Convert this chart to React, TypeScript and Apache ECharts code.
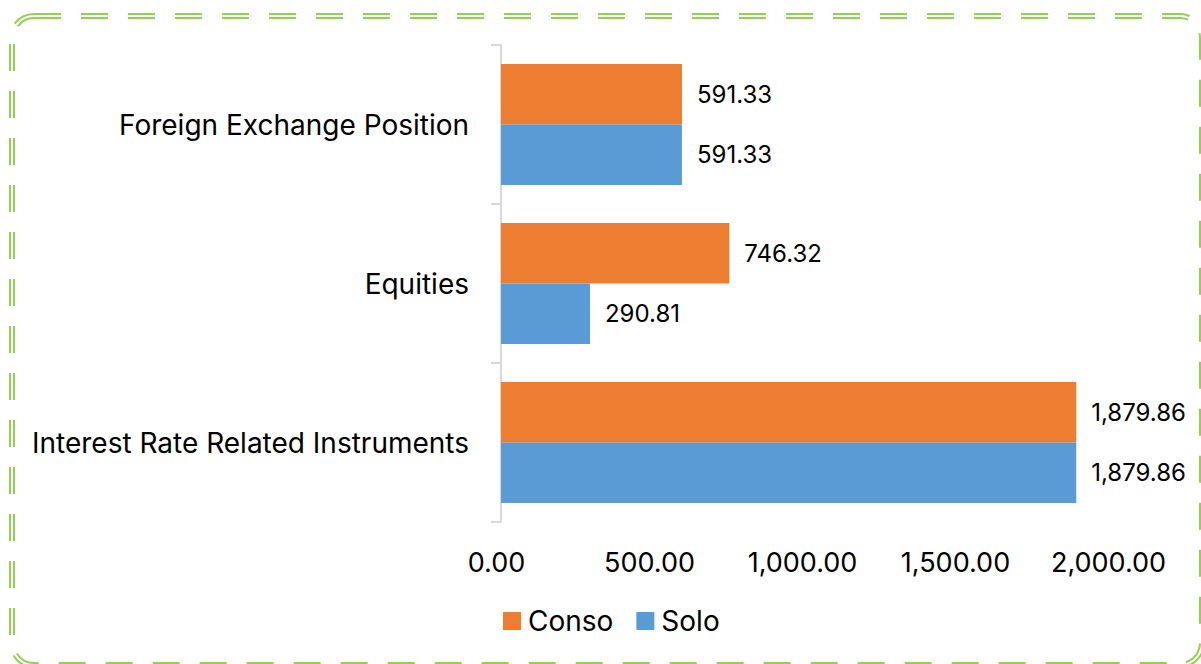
import React, { useEffect, useRef } from "react";
import * as echarts from "echarts";

const categories = ["Interest Rate Related Instruments", "Equities", "Foreign Exchange Position"];
const consoValues = [1879.86, 746.32, 591.33];
const soloValues = [1879.86, 290.81, 591.33];
const xTicks = [0, 500, 1000, 1500, 2000];

const FONT = "Inter";
const fmt = (v: number) =>
  v.toLocaleString("en-US", { minimumFractionDigits: 2, maximumFractionDigits: 2 });

export default function App() {
  const ref = useRef<HTMLDivElement>(null);
  useEffect(() => {
    if (!ref.current) return;
    const chart = echarts.init(ref.current, undefined, { renderer: "svg" });
    const W = 1201, H = 664;
    const borderShape = { x: 12, y: 16, width: W - 12 + 1, height: H - 16 + 1, r: 22 };
    const labelCfg = {
      show: true,
      position: "right",
      distance: 15,
      fontFamily: FONT,
      fontSize: 24,
      color: "#000",
      formatter: (p: any) => fmt(p.value),
    };
    chart.setOption({
      animation: false,
      backgroundColor: "#ffffff",
      textStyle: { fontFamily: FONT },
      grid: { left: 501, right: W - 1113, top: 45, bottom: H - 522 },
      legend: {
        data: ["Conso", "Solo"],
        bottom: 24,
        left: 498,
        itemWidth: 18,
        itemHeight: 18,
        itemGap: 23,
        icon: "rect",
        textStyle: { fontFamily: FONT, fontSize: 28, color: "#000", padding: [0, 0, 0, 2] },
      },
      xAxis: {
        type: "value",
        min: xTicks[0],
        max: xTicks[xTicks.length - 1],
        interval: 500,
        axisLine: { show: false },
        axisTick: { show: false },
        splitLine: { show: false },
        axisLabel: {
          fontFamily: FONT,
          fontSize: 27,
          color: "#000",
          margin: 27,
          padding: [0, 9, 0, 0],
          formatter: (v: number) => fmt(v),
        },
      },
      yAxis: {
        type: "category",
        data: categories,
        axisLine: { show: true, lineStyle: { color: "#D9D9D9", width: 2 } },
        axisTick: { show: true, length: 10, lineStyle: { color: "#D9D9D9", width: 2 } },
        axisLabel: { fontFamily: FONT, fontSize: 28, color: "#000", margin: 32 },
      },
      series: [
        {
          name: "Conso",
          type: "bar",
          data: consoValues,
          barGap: "0%",
          barCategoryGap: "24%",
          itemStyle: { color: "#ED7D31" },
          label: labelCfg,
        },
        {
          name: "Solo",
          type: "bar",
          data: soloValues,
          barGap: "0%",
          barCategoryGap: "24%",
          itemStyle: { color: "#5B9BD5" },
          label: labelCfg,
        },
      ],
      graphic: [
        {
          type: "rect",
          silent: true,
          shape: borderShape,
          style: { fill: "none", stroke: "#92D050", lineWidth: 6, lineDash: [27, 20] },
          z: 100,
        },
        {
          type: "rect",
          silent: true,
          shape: borderShape,
          style: { fill: "none", stroke: "#ffffff", lineWidth: 2, lineDash: [27, 20] },
          z: 101,
        },
      ],
    });
    return () => chart.dispose();
  }, []);
  return (
    <div
      ref={ref}
      style={{ position: "fixed", left: 0, top: 0, width: 1201, height: 664 }}
    />
  );
}
